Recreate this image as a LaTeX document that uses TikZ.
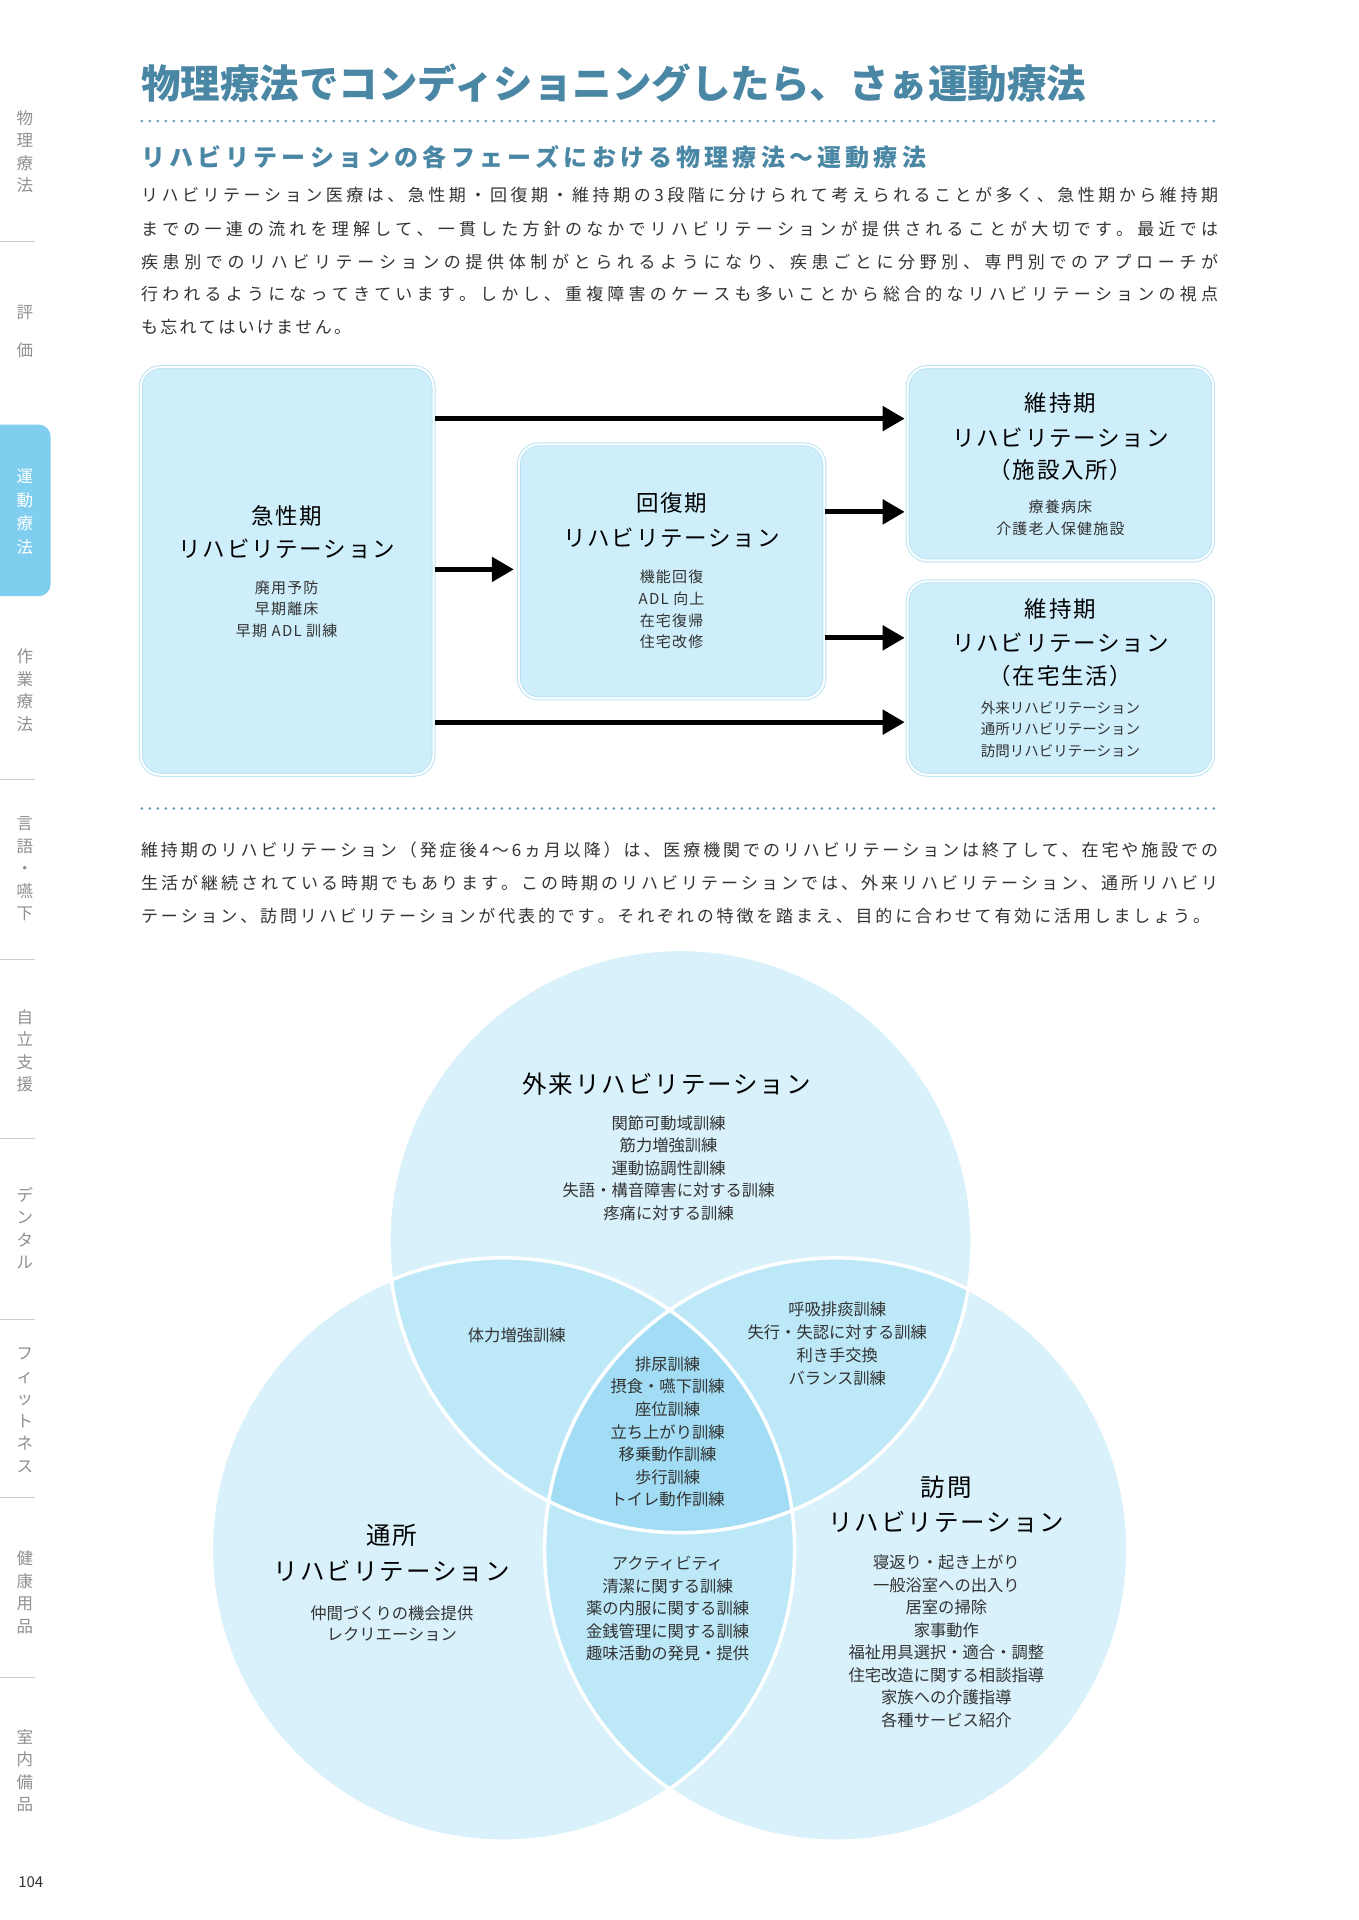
\documentclass[tikz,border=0pt]{standalone}
\usepackage{fontspec}
\setmainfont{Noto Sans CJK JP}
\newfontfamily\jpsp[LetterSpace=8]{Noto Sans CJK JP}
\usetikzlibrary{arrows.meta}
\definecolor{ttl}{HTML}{4A87A5}
\definecolor{txt}{HTML}{333333}
\definecolor{side}{HTML}{9A9A9A}
\definecolor{tab}{HTML}{7FCEF0}
\definecolor{boxf}{HTML}{CDEEFA}
\definecolor{boxd}{HTML}{B9E4F6}
\definecolor{vA}{HTML}{D9F1FB}
\definecolor{vB}{HTML}{BDE8F8}
\definecolor{vC}{HTML}{A2DDF5}
\def\endsp{\endsp}
\def\spr#1#2{\hbox to #1{\sprfirst#2\endsp}}
\def\sprfirst#1{#1\sprx}
\def\sprx#1{\ifx#1\endsp\else\hfil#1\expandafter\sprx\fi}
\newcommand\fs[1]{\fontsize{#1}{#1}\selectfont}
\tikzset{
 sidet/.style={text=side!110,font=\fs{16.5},align=center,inner sep=0},
 para/.style={text=txt,font=\fs{17},anchor=west,inner sep=0},
 box/.style={rounded corners=20pt,fill=boxf,draw=boxd,double=white,double distance=2pt,line width=1pt},
 bhead/.style={text=black,font=\jpsp\fs{22.5},inner sep=0},
 bsmall/.style={text=txt,font=\jpsp\fs{15},inner sep=0},
 arr/.style={line width=5pt,-{Triangle[length=22pt,width=24pt]}},
 vhead/.style={text=black,font=\jpsp\fs{24.5},inner sep=0},
 vsmall/.style={text=txt,font=\fs{16.3},inner sep=0},
}
\begin{document}
\begin{tikzpicture}[x=0.992pt,y=-0.992pt]
\useasboundingbox (0,0) rectangle (1369,1935.5);
\fill[white] (0,0) rectangle (1369,1935.5);
% sidebar
\fill[tab,rounded corners=12pt] (-15,428) rectangle (51,601);
\foreach \yy in {243,786,967,1148,1330,1510,1691} \draw[side!50,line width=1pt] (0,\yy) -- (35,\yy);
\node[sidet] (s1) at (25,153) {物\\[6pt]理\\[6pt]療\\[6pt]法};
\node[sidet] (s2) at (25,334) {評\\[22pt]価};
\node[sidet,text=white] (s3) at (25,516) {運\\[7pt]動\\[7pt]療\\[7pt]法};
\node[sidet] (s4) at (25,696) {作\\[6pt]業\\[6pt]療\\[6pt]法};
\node[sidet] (s5) at (25,876) {言\\[6pt]語\\[6pt]・\\[6pt]嚥\\[6pt]下};
\node[sidet] (s6) at (25,1059) {自\\[6pt]立\\[6pt]支\\[6pt]援};
\node[sidet] (s7) at (25,1238) {デ\\[6pt]ン\\[6pt]タ\\[6pt]ル};
\node[sidet] (s8) at (25,1422) {フ\\[6pt]ィ\\[6pt]ッ\\[6pt]ト\\[6pt]ネ\\[6pt]ス};
\node[sidet] (s9) at (25,1605) {健\\[6pt]康\\[6pt]用\\[6pt]品};
\node[sidet] (s10) at (25,1785) {室\\[6pt]内\\[6pt]備\\[6pt]品};
\node[text=txt,font=\fs{15},inner sep=0] (pg) at (31,1897) {104};
% title
\node[anchor=west,inner sep=0,text=ttl,font=\bfseries\fs{39.5}] (title) at (142,84) {物理療法でコンディショニングしたら、さぁ運動療法};
\draw[ttl!80,line width=3pt,line cap=round,dash pattern=on 0pt off 8pt] (143,122) -- (1228,122);
\node[anchor=west,inner sep=0,text=ttl,font=\bfseries\fs{24}] (sub) at (142,158) {\spr{785pt}{リハビリテーションの各フェーズにおける物理療法〜運動療法}};
\node[para] (p1) at (142,197) {\spr{1077pt}{リハビリテーション医療は、急性期・回復期・維持期の3段階に分けられて考えられることが多く、急性期から維持期}};
\node[para] (p2) at (142,231) {\spr{1077pt}{までの一連の流れを理解して、一貫した方針のなかでリハビリテーションが提供されることが大切です。最近では}};
\node[para] (p3) at (142,264) {\spr{1077pt}{疾患別でのリハビリテーションの提供体制がとられるようになり、疾患ごとに分野別、専門別でのアプローチが}};
\node[para] (p4) at (142,296) {\spr{1077pt}{行われるようになってきています。しかし、重複障害のケースも多いことから総合的なリハビリテーションの視点}};
\node[para] (p5) at (142,330) {\spr{210pt}{も忘れてはいけません。}};
% boxes
\path[box] (142,370) rectangle (437,781);
\path[box] (523,448) rectangle (831,704);
\path[box] (915,370) rectangle (1223,565);
\path[box] (915,586) rectangle (1223,781);
\node[bhead] (h1a) at (289,520) {急性期};
\node[bhead] (h1b) at (289,553) {リハビリテーション};
\node[bsmall] (t1a) at (289,593) {廃用予防};
\node[bsmall] (t1b) at (289,614) {早期離床};
\node[bsmall] (t1c) at (289,636) {早期 ADL 訓練};
\node[bhead] (h2a) at (677,507) {回復期};
\node[bhead] (h2b) at (677,542) {リハビリテーション};
\node[bsmall] (t2a) at (677,581) {機能回復};
\node[bsmall] (t2b) at (677,604) {ADL 向上};
\node[bsmall] (t2c) at (677,626) {在宅復帰};
\node[bsmall] (t2d) at (677,647) {住宅改修};
\node[bhead] (h3a) at (1069,406) {維持期};
\node[bhead] (h3b) at (1069,441) {リハビリテーション};
\node[bhead] (h3c) at (1069,474) {（施設入所）};
\node[bsmall] (t3a) at (1069,511) {療養病床};
\node[bsmall] (t3b) at (1069,533) {介護老人保健施設};
\node[bhead] (h4a) at (1069,614) {維持期};
\node[bhead] (h4b) at (1069,648) {リハビリテーション};
\node[bhead] (h4c) at (1069,681) {（在宅生活）};
\node[bsmall,font=\fs{14.5}] (t4a) at (1069,714) {外来リハビリテーション};
\node[bsmall,font=\fs{14.5}] (t4b) at (1069,735) {通所リハビリテーション};
\node[bsmall,font=\fs{14.5}] (t4c) at (1069,757) {訪問リハビリテーション};
% arrows
\draw[arr] (439,422) -- (912,422);
\draw[arr] (439,574) -- (518,574);
\draw[arr] (832,516) -- (912,516);
\draw[arr] (832,643) -- (912,643);
\draw[arr] (439,728) -- (912,728);
\draw[ttl!80,line width=3pt,line cap=round,dash pattern=on 0pt off 8pt] (143,815) -- (1228,815);
\node[para] (q1) at (142,857) {\spr{1077pt}{維持期のリハビリテーション（発症後4〜6ヵ月以降）は、医療機関でのリハビリテーションは終了して、在宅や施設での}};
\node[para] (q2) at (142,890) {\spr{1077pt}{生活が継続されている時期でもあります。この時期のリハビリテーションでは、外来リハビリテーション、通所リハビリ}};
\node[para] (q3) at (142,923) {\spr{1069pt}{テーション、訪問リハビリテーションが代表的です。それぞれの特徴を踏まえ、目的に合わせて有効に活用しましょう。}};
% venn
\def\cA{(686,1251) circle (294)}
\def\cB{(507,1562) circle (294)}
\def\cC{(843,1562) circle (294)}
\fill[vA] \cA; \fill[vA] \cB; \fill[vA] \cC;
\begin{scope}\clip \cA; \fill[vB] \cB; \fill[vB] \cC;\end{scope}
\begin{scope}\clip \cB; \fill[vB] \cC;\end{scope}
\begin{scope}\clip \cA; \clip \cB; \fill[vC] \cC;\end{scope}
\draw[white,line width=3.5pt] \cA \cB \cC;
\node[vhead] (va) at (672,1093) {外来リハビリテーション};
\foreach \t [count=\i] in {関節可動域訓練,筋力増強訓練,運動協調性訓練,失語・構音障害に対する訓練,疼痛に対する訓練}
  \node[vsmall] (a\i) at (674,1132+22.7*\i-22.7) {\t};
\node[vsmall] (ab) at (521,1346) {体力増強訓練};
\foreach \t [count=\i] in {呼吸排痰訓練,失行・失認に対する訓練,利き手交換,バランス訓練}
  \node[vsmall] (ac\i) at (844,1320+23*\i-23) {\t};
\foreach \t [count=\i] in {排尿訓練,摂食・嚥下訓練,座位訓練,立ち上がり訓練,移乗動作訓練,歩行訓練,トイレ動作訓練}
  \node[vsmall] (m\i) at (673,1375+22.8*\i-22.8) {\t};
\node[vhead] (vb1) at (395,1548) {通所};
\node[vhead] (vb2) at (395,1584) {リハビリテーション};
\node[vsmall] (b1t) at (395,1626) {仲間づくりの機会提供};
\node[vsmall] (b2t) at (395,1648) {レクリエーション};
\node[vhead] (vc1) at (954,1499) {訪問};
\node[vhead] (vc2) at (954,1534) {リハビリテーション};
\foreach \t [count=\i] in {寝返り・起き上がり,一般浴室への出入り,居室の掃除,家事動作,福祉用具選択・適合・調整,住宅改造に関する相談指導,家族への介護指導,各種サービス紹介}
  \node[vsmall] (c\i) at (954,1575+22.7*\i-22.7) {\t};
\foreach \t [count=\i] in {アクティビティ,清潔に関する訓練,薬の内服に関する訓練,金銭管理に関する訓練,趣味活動の発見・提供}
  \node[vsmall] (bc\i) at (673,1576+22.7*\i-22.7) {\t};
\end{tikzpicture}
\end{document}
